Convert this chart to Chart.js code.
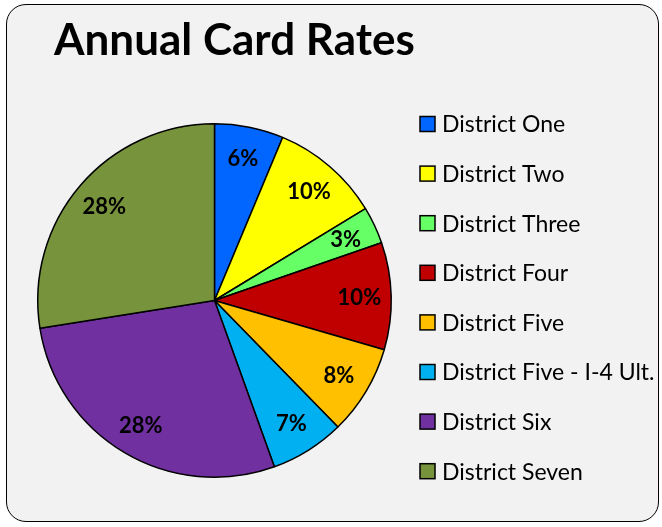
<!DOCTYPE html>
<html>
<head>
<meta charset="utf-8">
<script src="https://cdn.jsdelivr.net/npm/chart.js@4.4.1/dist/chart.umd.min.js"></script>
<style>
  html, body { margin: 0; padding: 0; background: #fff; }
  #frame {
    position: absolute; left: 6px; top: 4px; width: 651px; height: 516px;
    border: 1.5px solid #000; border-radius: 20px; background: #f2f2f2;
  }
  #wrap { position: absolute; left: 0; top: 0; width: 662px; height: 527px; }
</style>
</head>
<body>
<div id="frame"></div>
<div id="wrap"><canvas id="pie" width="662" height="527"></canvas></div>
<script>
// ---- data ----
const TITLE = 'Annual Card Rates';
const districts = ['District One', 'District Two', 'District Three', 'District Four',
                   'District Five', 'District Five - I-4 Ult.', 'District Six', 'District Seven'];
const shares = [6.3, 10.0, 3.4, 9.8, 8.2, 6.8, 28.0, 27.5];
const colors = ['#0066FF', '#FFFF00', '#66FF66', '#C00000',
                '#FFC000', '#00B0F0', '#7030A0', '#77933C'];

const FONT = 'Lato, "Open Sans", sans-serif';

// title, percent labels and legend are painted on the same canvas
const decor = {
  id: 'decor',
  afterDatasetsDraw(chart) {
    const ctx = chart.ctx;
    const meta = chart.getDatasetMeta(0);
    const total = shares.reduce((a, b) => a + b, 0);
    ctx.save();

    // percent labels inside the slices
    ctx.font = 'bold 22px ' + FONT;
    ctx.fillStyle = '#000';
    ctx.textAlign = 'center';
    ctx.textBaseline = 'middle';
    meta.data.forEach((arc, i) => {
      const p = arc.getProps(['x', 'y', 'startAngle', 'endAngle', 'outerRadius'], true);
      const mid = (p.startAngle + p.endAngle) / 2;
      const r = p.outerRadius * 0.82;
      ctx.fillText(Math.round(shares[i] / total * 100) + '%',
                   p.x + Math.cos(mid) * r, p.y + Math.sin(mid) * r + 1);
    });

    // title
    ctx.textAlign = 'left';
    ctx.textBaseline = 'alphabetic';
    ctx.font = 'bold 44px ' + FONT;
    ctx.fillText(TITLE, 54, 55);

    // legend
    ctx.font = '23px ' + FONT;
    ctx.textBaseline = 'middle';
    districts.forEach((name, i) => {
      const y = 124 + i * 49.6;
      ctx.fillStyle = colors[i];
      ctx.fillRect(420, y - 7.5, 15, 15);
      ctx.lineWidth = 1.5;
      ctx.strokeStyle = '#000';
      ctx.strokeRect(420, y - 7.5, 15, 15);
      ctx.fillStyle = '#000';
      ctx.fillText(name, 442, y + 1);
    });
    ctx.restore();
  }
};

new Chart(document.getElementById('pie').getContext('2d'), {
  type: 'pie',
  data: {
    labels: districts,
    datasets: [{
      data: shares,
      backgroundColor: colors,
      borderColor: '#000',
      borderWidth: 1.5
    }]
  },
  options: {
    responsive: false, animation: false,
    layout: { padding: { left: 37, top: 123, right: 270, bottom: 49 } },
    plugins: { legend: { display: false }, title: { display: false }, tooltip: { enabled: false } }
  },
  plugins: [decor]
});
</script>
</body>
</html>
